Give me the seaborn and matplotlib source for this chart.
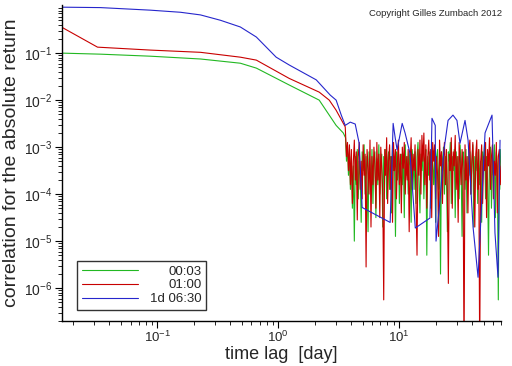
import numpy as np
import pandas as pd
import matplotlib
matplotlib.use("Agg")
import matplotlib.pyplot as plt
import seaborn as sns
from matplotlib.lines import Line2D

# smooth part of the three curves (lag in days, correlation)
green_lag = [0.0161, 0.0338, 0.0875, 0.227, 0.485, 0.658, 1.23, 2.18, 3.01, 3.45]
green_val = [0.100, 0.095, 0.086, 0.075, 0.061, 0.048, 0.021, 0.010, 0.0029, 0.0020]

red_lag = [0.0161, 0.0319, 0.0875, 0.227, 0.485, 0.658, 1.23, 2.18, 2.64, 3.01, 3.58]
red_val = [0.357, 0.134, 0.116, 0.104, 0.082, 0.071, 0.029, 0.0148, 0.010, 0.0061, 0.0027]

blue_lag = [0.0161, 0.0338, 0.0875, 0.155, 0.227, 0.332, 0.485, 0.658, 0.96, 1.23,
            2.06, 2.69, 3.01, 3.32, 3.58, 3.94, 4.33, 4.67, 4.94, 8.43, 8.92, 9.27,
            9.62, 10.6, 11.2, 12.3, 13.6, 18.0, 18.7, 19.9, 20.2, 21.8, 23.5, 25.4,
            27.9, 30.1, 31.9, 35.1, 37.2, 40.9, 45.0, 51.4, 58.7, 62.1, 65.8, 68.4]
blue_val = [0.95, 0.93, 0.82, 0.74, 0.65, 0.50, 0.36, 0.22, 0.082, 0.056,
            0.027, 0.0128, 0.010, 0.0048, 0.0029, 0.0034, 0.0031, 0.0012, 5.2e-5, 2.5e-5,
            3.2e-3, 1.6e-3, 8.7e-4, 3.2e-3, 2.0e-3, 7.4e-4, 1.9e-5, 3.1e-5, 4.1e-3, 2.9e-3,
            1.0e-5, 7.4e-5, 8.7e-4, 3.7e-3, 4.8e-3, 3.7e-3, 1.2e-3, 3.7e-3, 1.4e-3, 2.0e-5,
            1.7e-6, 2.0e-3, 4.8e-3, 1.5e-5, 1.7e-6, 1.4e-3]

# noisy tail (log10 of the correlation), read on the lag grid 3.6 .. 70 days
red_noise_exp = [-2.7, -3.2, -2.9, -3.5, -2.95, -3.8, -3.05, -4.2, -3.3, -2.85,
                 -3.7, -3.1, -4.55, -3.2, -2.9, -3.9, -3.3, -4.1, -2.95, -3.6,
                 -3.15, -5.55, -3.05, -3.4, -4.0, -2.85, -4.7, -3.2, -3.8, -3.0,
                 -3.35, -4.3, -2.9, -3.7, -3.15, -4.5, -3.0, -3.45, -4.0, -6.25,
                 -3.05, -3.6, -2.8, -4.2, -3.3, -2.95, -3.9, -3.2, -4.6, -2.9,
                 -3.5, -3.05, -4.1, -3.3, -2.85, -3.8, -3.15, -4.4, -3.0, -3.45,
                 -2.9, -4.0, -3.2, -3.7, -3.05, -4.8, -3.3, -2.8, -3.9, -3.15,
                 -3.5, -2.95, -4.2, -5.3, -3.05, -3.6, -2.85, -4.0, -2.75, -3.3,
                 -2.7, -3.8, -2.95, -4.3, -3.2, -2.85, -3.7, -3.05, -4.5, -2.9,
                 -3.3, -2.95, -4.1, -3.2, -3.6, -4.9, -2.85, -3.4, -3.1, -4.2,
                 -3.2, -2.9, -3.8, -3.05, -4.0, -5.9, -3.15, -3.5, -2.8, -4.3,
                 -3.1, -3.4, -2.75, -3.9, -3.2, -4.6, -2.9, -3.3, -3.8, -3.05,
                 -3.5, -7.5, -2.95, -3.7, -3.2, -4.4, -3.05, -2.85, -4.0, -3.3,
                 -2.9, -3.6, -4.7, -3.15, -2.85, -3.9, -3.05, -7.5, -3.3, -2.95,
                 -4.2, -3.2, -3.5, -2.9, -4.5, -3.05, -3.4, -2.8, -3.9, -3.2,
                 -2.95, -4.1, -3.3, -3.6, -2.9, -4.4, -3.2, -3.05, -3.8, -3.4]
green_noise_exp = [-2.8, -3.3, -2.95, -3.6, -3.15, -3.9, -3.2, -4.3, -3.4, -5.0,
                   -3.2, -3.8, -3.05, -4.1, -3.3, -3.6, -4.6, -3.1, -3.5, -2.95,
                   -4.0, -3.2, -3.7, -4.8, -3.1, -3.4, -3.9, -3.05, -4.2, -3.3,
                   -3.1, -4.5, -3.25, -3.8, -2.95, -4.0, -3.4, -3.15, -4.7, -3.2,
                   -3.6, -3.05, -4.1, -3.3, -3.1, -3.9, -3.2, -4.4, -2.95, -3.5,
                   -3.3, -4.9, -3.1, -3.7, -3.05, -4.2, -3.4, -3.15, -3.8, -3.2,
                   -4.5, -2.95, -3.6, -3.2, -4.0, -3.1, -3.4, -4.6, -3.05, -3.3,
                   -3.9, -3.1, -4.2, -3.2, -2.9, -3.7, -4.4, -3.15, -3.5, -3.0,
                   -4.1, -3.3, -3.05, -5.3, -3.2, -3.6, -3.1, -4.3, -2.95, -3.4,
                   -3.8, -3.1, -4.6, -3.2, -3.05, -3.9, -3.3, -5.7, -3.1, -3.5,
                   -3.0, -4.0, -3.2, -3.6, -4.8, -3.1, -3.3, -2.9, -4.2, -3.2,
                   -3.5, -3.05, -4.5, -3.1, -3.7, -3.2, -4.1, -2.95, -3.4, -4.9,
                   -3.1, -3.3, -3.9, -3.05, -4.4, -3.2, -3.6, -3.1, -4.0, -3.3,
                   -2.95, -4.7, -3.2, -3.5, -3.1, -4.2, -3.05, -3.8, -3.3, -4.6,
                   -3.1, -3.4, -2.9, -4.1, -3.2, -3.7, -5.3, -3.1, -3.0, -4.3,
                   -3.2, -3.6, -2.95, -4.5, -3.1, -3.4, -6.25, -3.2, -3.05, -3.9]
noise_lag = np.geomspace(3.6, 70, len(red_noise_exp))

labels = ["00:03", "01:00", "1d 06:30"]
colors = ["#22b822", "#c80000", "#2626cc"]

frames = [
    pd.DataFrame({"lag": np.concatenate([green_lag, noise_lag]),
                  "corr": np.concatenate([green_val, 10.0 ** np.array(green_noise_exp)]),
                  "series": labels[0]}),
    pd.DataFrame({"lag": np.concatenate([red_lag, noise_lag]),
                  "corr": np.concatenate([red_val, 10.0 ** np.array(red_noise_exp)]),
                  "series": labels[1]}),
    pd.DataFrame({"lag": blue_lag, "corr": blue_val, "series": labels[2]}),
]
df = pd.concat(frames, ignore_index=True)

sns.set_style("ticks")
plt.rcParams["font.family"] = ["Liberation Sans", "DejaVu Sans"]
plt.rcParams["mathtext.fontset"] = "custom"
plt.rcParams["mathtext.rm"] = "Liberation Sans"
plt.rcParams["mathtext.it"] = "Liberation Sans"
plt.rcParams["mathtext.default"] = "regular"

fig = plt.figure(figsize=(5.12, 3.66), dpi=100)
ax = fig.add_axes([0.121, 0.123, 0.858, 0.863])

sns.lineplot(data=df, x="lag", y="corr", hue="series", hue_order=labels,
             palette=colors, estimator=None, sort=False, linewidth=0.8,
             legend=False, ax=ax)

ax.set_xscale("log")
ax.set_yscale("log")
ax.set_xlim(0.0162, 70)
ax.set_ylim(2e-7, 1.05)
sns.despine(ax=ax)
for s in ["left", "bottom"]:
    ax.spines[s].set_linewidth(1.0)
    ax.spines[s].set_color("black")

ax.yaxis.set_minor_locator(matplotlib.ticker.LogLocator(base=10, subs=np.arange(2, 10), numticks=20))
ax.tick_params(which="major", length=5, width=0.8, color="black", labelsize=10, pad=2)
ax.tick_params(axis="x", which="major", pad=1, labelsize=9.5)
ax.tick_params(which="minor", length=3, width=0.6, color="black")
ax.set_yticks([1e-6, 1e-5, 1e-4, 1e-3, 1e-2, 1e-1])
ax.yaxis.set_minor_formatter(matplotlib.ticker.NullFormatter())
ax.xaxis.set_minor_formatter(matplotlib.ticker.NullFormatter())

ax.set_xlabel("time lag  [day]", fontsize=13)
ax.xaxis.set_label_coords(0.5, -0.079)
ax.set_ylabel("correlation for the absolute return", fontsize=14, labelpad=3)

handles = [Line2D([0], [0], color=c, lw=0.8) for c in colors]
leg = ax.legend(handles, labels, loc="lower left", bbox_to_anchor=(0.034, 0.035),
                borderaxespad=0, fontsize=9.5, handlelength=4.3, handletextpad=0.9,
                frameon=True, fancybox=False, edgecolor="black", borderpad=0.35,
                labelspacing=0.12)
leg.get_frame().set_linewidth(1.0)
fig.canvas.draw()
renderer = fig.canvas.get_renderer()
widths = [t.get_window_extent(renderer).width for t in leg.get_texts()]
for t, w in zip(leg.get_texts(), widths):
    t.set_position((max(widths) - w, 0))

fig.text(0.98, 0.964, "Copyright Gilles Zumbach 2012", ha="right", va="center", fontsize=6.8)

fig.savefig("out.png", dpi=100)
